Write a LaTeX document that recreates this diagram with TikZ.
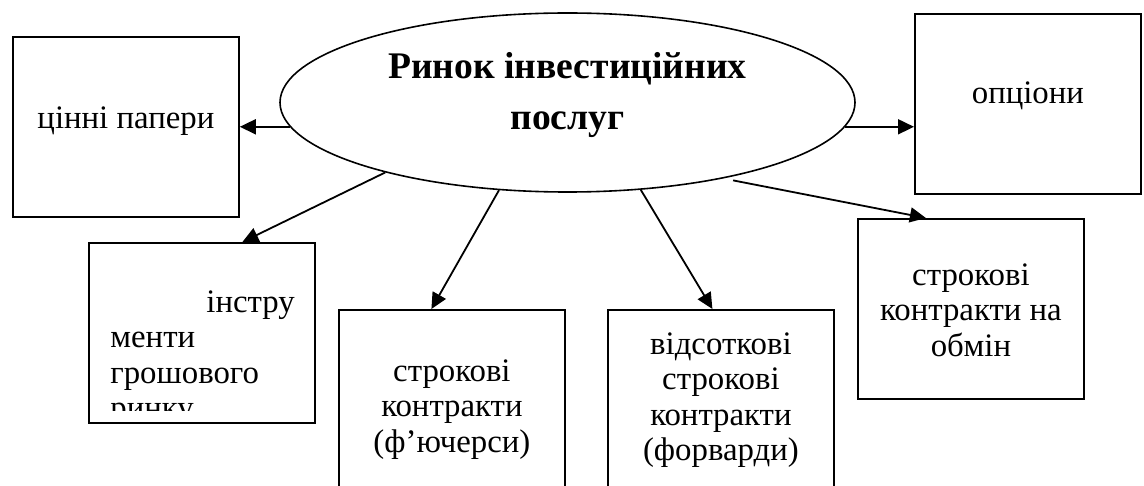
\documentclass[tikz,border=0pt]{standalone}
\usepackage{fontspec}
\setmainfont{Liberation Serif}
\usetikzlibrary{shapes.geometric,arrows.meta,positioning}

\begin{document}
\begin{tikzpicture}[
  x=0.5pt, y=-0.5pt,
  box/.style={rectangle, draw=black, line width=0.9pt, minimum width=113pt,
    minimum height=90pt, inner sep=0pt, anchor=north west},
  lbl/.style={align=center, inner sep=0pt, anchor=north,
    font=\fontsize{16.4}{17.75}\selectfont},
  market/.style={ellipse, draw=black, line width=0.8pt, minimum width=287.5pt,
    minimum height=89.5pt, inner sep=0pt},
  title/.style={align=center, inner sep=0pt,
    font=\fontsize{18.8}{25.5}\selectfont\bfseries},
  arr/.style={-{Triangle[length=8pt, width=7.5pt]}, line width=0.9pt, black}]

\clip (0,0) rectangle (1144,486);

\node[market] (mkt) at (567.5,102.5) {};
\node[title] (mktt) at ([yshift=3.5pt]mkt.center) {Ринок інвестиційних\\ послуг};

\node[box] (pap) at (12,36) {};
\node[box] (opt) at (914,13) {};
\node[box] (instr) at (88,242) {};
\node[box] (fut) at (338,309) {};
\node[box] (fwd) at (607,309) {};
\node[box] (swap) at (857,218) {};

\node[lbl, below=35pt of pap.north] (papt) {цінні папери};
\node[lbl, below=34pt of opt.north] (optt) {опціони};
\node[lbl, below=25pt of fut.north] (futt) {строкові\\ контракти\\ (ф’ючерси)};
\node[lbl, below=11.5pt of fwd.north] (fwdt) {відсоткові\\ строкові\\ контракти\\ (форварди)};
\node[lbl, below=22.5pt of swap.north] (swapt) {строкові\\ контракти на\\ обмін};
\begin{scope}
  \clip (88,242) rectangle (315,410);
  \node[lbl, align=left, anchor=north west] (instrt)
    at ([xshift=11pt, yshift=-24pt]instr.north west)
    {\hspace*{48pt}інстру\\ менти\\ грошового\\ ринку};
\end{scope}

\draw[arr] (mkt.185) -- (mkt.185 -| pap.east);
\draw[arr] (mkt.355) -- (mkt.355 -| opt.west);
\draw[arr] (mkt.201.7) -- ([xshift=20.25pt]instr.north);
\draw[arr] (mkt.232.3) -- ([xshift=-10.25pt]fut.north);
\draw[arr] (mkt.310.8) -- ([xshift=-4.25pt]fwd.north);
\draw[arr, shorten <=5pt] (mkt.334.3) -- ([xshift=-22.5pt]swap.north);
\end{tikzpicture}
\end{document}
